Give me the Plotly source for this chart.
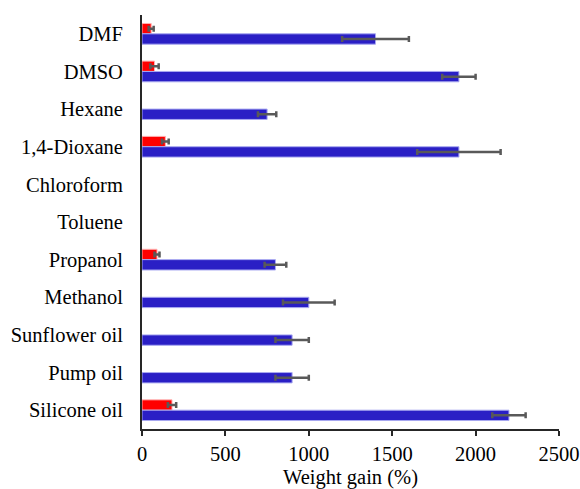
import plotly.graph_objects as go

categories = ["DMF", "DMSO", "Hexane", "1,4-Dioxane", "Chloroform", "Toluene",
              "Propanol", "Methanol", "Sunflower oil", "Pump oil", "Silicone oil"]
red_values = [55, 75, 0, 140, 0, 0, 90, 0, 0, 0, 180]
red_errors = [15, 25, 0, 20, 0, 0, 15, 0, 0, 0, 25]
blue_values = [1400, 1900, 750, 1900, 0, 0, 800, 1000, 900, 900, 2200]
blue_errors = [200, 100, 55, 250, 0, 0, 65, 155, 100, 100, 100]
x_ticks = [0, 500, 1000, 1500, 2000, 2500]

red_vis_err = [e if v > 0 else None for v, e in zip(red_values, red_errors)]
blue_vis_err = [e if v > 0 else None for v, e in zip(blue_values, blue_errors)]

font_family = "Times New Roman"
serif_font = dict(family=font_family, size=20.5, color="black")

fig = go.Figure()
fig.add_trace(go.Bar(
    y=categories, x=[v if v > 0 else None for v in red_values], orientation="h",
    marker=dict(color="#FF0000", line=dict(color="#FFB0B0", width=1)),
    error_x=dict(type="data", array=red_vis_err, visible=True,
                 color="#595959", thickness=2.5, width=3),
    showlegend=False,
))
fig.add_trace(go.Bar(
    y=categories, x=[v if v > 0 else None for v in blue_values], orientation="h",
    marker=dict(color="#2A1FC5", line=dict(color="#A8A8F0", width=1)),
    error_x=dict(type="data", array=blue_vis_err, visible=True,
                 color="#595959", thickness=2.5, width=3),
    showlegend=False,
))

fig.update_layout(
    width=580, height=489,
    template="none",
    margin=dict(l=142, r=21, t=15, b=60),
    paper_bgcolor="white", plot_bgcolor="white",
    barmode="group", bargap=0.45, bargroupgap=0,
    font=serif_font,
    xaxis=dict(
        range=[0, 2500], tickvals=x_ticks, ticktext=[str(t) for t in x_ticks],
        showgrid=False, zeroline=False, automargin=False,
        showline=True, linecolor="#262626", linewidth=2,
        ticks="outside", ticklen=5, tickwidth=2, tickcolor="#262626",
        tickfont=serif_font,
        title=dict(text="Weight gain (%)", standoff=7, font=serif_font),
    ),
    yaxis=dict(
        categoryorder="array", categoryarray=categories, autorange="reversed",
        showgrid=False, zeroline=False, automargin=False,
        showline=True, linecolor="#262626", linewidth=2,
        ticks="outside", ticklen=13, tickcolor="rgba(0,0,0,0)",
        tickfont=serif_font,
    ),
)

fig.write_html("out.html")
